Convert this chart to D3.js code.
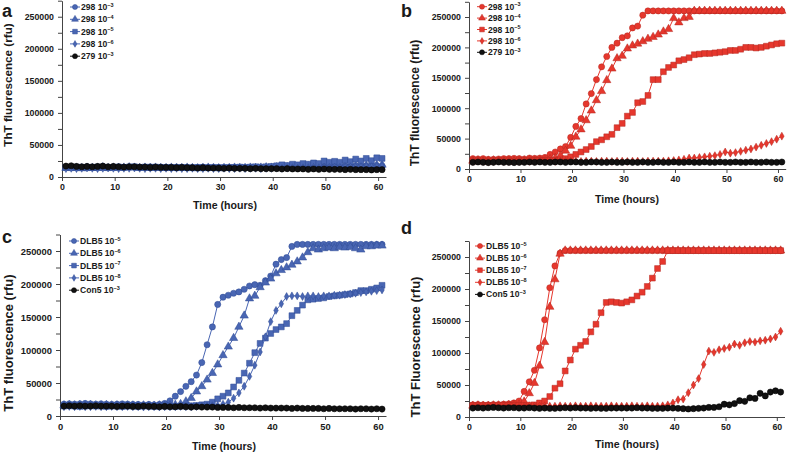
<!DOCTYPE html>
<html><head><meta charset="utf-8">
<script src="https://cdn.jsdelivr.net/npm/d3@7"></script>
<style>
body{margin:0;background:#fff}
svg{display:block}
text{font-family:"Liberation Sans",Arial,sans-serif;font-weight:bold;fill:#1a1a1a}
</style>
</head><body>
<svg id="chart" width="800" height="452"></svg>
<script>
// ---------- DATA ----------
const HOURS = [0.75,1.75,2.75,3.75,4.75,5.75,6.75,7.75,8.75,9.75,
 10.75,11.75,12.75,13.75,14.75,15.75,16.75,17.75,18.75,19.75,
 20.75,21.75,22.75,23.75,24.75,25.75,26.75,27.75,28.75,29.75,
 30.75,31.75,32.75,33.75,34.75,35.75,36.75,37.75,38.75,39.75,
 40.75,41.75,42.75,43.75,44.75,45.75,46.75,47.75,48.75,49.75,
 50.75,51.75,52.75,53.75,54.75,55.75,56.75,57.75,58.75,59.75,60.75];
const X_TICKS = [0,10,20,30,40,50,60];
const Y_TICKS = [0,50000,100000,150000,200000,250000];
const Y_MINOR = [25000,75000,125000,175000,225000,275000];
const X_MAX = 61.5, Y_MAX = 275000;

// panel a : 298 dilutions (blue)
const A_298_3 = [15500,16000,15000,15500,16000,15000,15500,16500,15000,15500,
 16000,15000,16000,15500,15000,15500,16000,15000,15500,15000,
 15000,15500,15000,15000,14500,15000,15500,15000,14500,15000,
 15000,14500,15000,15000,14500,15000,15000,14500,15000,15500,
 15000,15500,15000,16000,15500,16000,15500,16000,16500,16000,
 16500,16000,17000,16500,16500,17000,16500,17000,17000,17500,17000];
const A_298_4 = [14000,14500,14000,13500,14500,14000,14000,15000,14000,14500,
 14000,14500,15000,14500,14000,14500,14000,14500,14000,14000,
 14500,14000,14000,14500,14000,13500,14000,14500,14000,13500,
 14000,14000,14500,14000,14000,14500,14000,14500,15000,14500,
 15000,15500,15000,16000,15500,16000,16500,16000,17000,16500,
 17000,17500,17000,18000,17500,18000,18500,18000,19000,18500,19000];
const A_298_5 = [15000,14500,15500,15000,14500,15000,15500,15000,14500,15000,
 15500,15000,15500,16000,15000,15500,15000,15500,15000,14500,
 15000,14500,15000,14500,14500,15000,14500,14500,15000,14500,
 14500,15000,15000,15500,15000,15500,16000,15500,16000,16500,
 17500,19000,18000,20000,19000,21000,20000,22000,21000,25000,
 23000,24500,23000,26500,24000,28000,25000,29000,25500,30000,29000];
const A_298_6 = [13000,13500,13000,13500,14000,13500,13000,13500,14000,13500,
 13000,13500,13500,14000,13500,13000,13500,13500,13000,13500,
 13000,13500,13000,13000,13500,13000,13000,13500,13000,13000,
 13500,13000,13000,13500,13000,13500,13500,13000,13500,13500,
 14000,13500,14000,14500,14000,14500,14500,15000,14500,15000,
 15000,15500,15000,15500,16000,15500,16000,16500,16000,16500,17000];
const A_279_3 = [17000,17500,16500,16000,16500,16000,16500,17000,16000,16500,
 16000,15500,16000,16000,15500,15500,15000,15500,15000,15000,
 15000,14500,15000,14500,14500,14000,14500,14000,14000,14000,
 13500,14000,13500,13500,13500,13000,13500,13000,13000,13000,
 13000,12500,13000,12500,12500,12500,12000,12500,12000,12500,
 12000,12000,12000,11500,12000,11500,11500,11500,11000,11500,11500];

// panel b : 298 dilutions (red)
const B_298_3 = [17000,16500,17000,16000,16000,16500,17000,17000,17500,17000,
 16500,18000,17500,18000,19000,24000,28000,33000,37000,52000,
 70000,83000,107000,124000,147000,168000,185000,200000,207000,216000,
 219000,232000,235000,253000,260000,260000,260000,260000,260000,260000,
 260000,260000,260000,260000,260000,260000,260000,260000,260000,260000,
 260000,260000,260000,260000,260000,260000,260000,260000,260000,260000,260000];
const B_298_4 = [13500,14000,13000,13500,14000,13500,13000,14000,13500,14000,
 14000,14500,14000,14500,15000,16000,18000,22000,30000,38000,
 53000,65000,80000,96000,113000,128000,146000,165000,182000,186000,
 198000,203000,206000,210000,214000,217000,221000,226000,230000,248000,
 241000,248000,250000,260000,260000,260000,260000,260000,260000,260000,
 260000,260000,260000,260000,260000,260000,260000,260000,260000,260000,260000];
const B_298_5 = [13000,13500,13000,12500,13000,13500,13000,13000,12500,13000,
 13500,13000,13500,14000,13500,14000,14000,15000,17000,20000,
 24000,28000,32000,37000,45000,48000,53000,57000,68000,75000,
 87000,93000,109000,111000,121000,147000,147000,160000,167000,171000,
 178000,180000,183000,188000,189000,190000,190000,191000,192000,193000,
 195000,195000,197000,200000,200000,199000,200000,202000,204000,206000,207000];
const B_298_6 = [12500,13000,12500,12000,12500,13000,12500,12500,13000,12500,
 13000,12500,13000,13500,13000,13000,12500,13000,13500,13000,
 13000,12500,13000,13000,12500,13000,13000,12500,13000,13000,
 12500,13000,13000,12500,13000,13000,13000,13000,13500,14000,
 15000,16000,18000,18000,19000,20000,21000,22000,24000,28000,
 26000,27000,29000,31000,33000,36000,39000,42000,45000,49000,54000];
const B_279_3 = [11000,11500,11000,10500,11000,11500,11000,11000,10500,11000,
 11000,11500,11000,11500,11000,11000,11500,11500,11000,11500,
 11500,11000,11000,11500,11500,11000,11000,11500,11000,11000,
 11500,11000,11000,11500,11000,11000,11500,11000,11000,11500,
 11000,11000,11500,11000,11000,11500,11000,11000,11500,11000,
 11000,11500,11000,11000,11500,11000,11000,11500,11000,11000,11500];

// panel c : DLB5 dilutions (blue)
const C_DLB5_5 = [18000,18500,18000,18500,19000,18500,18000,18500,18000,17500,
 18000,18500,18000,17500,17500,17000,17500,17000,17500,19000,
 23000,30000,37000,45000,52000,62000,81000,108000,135000,169000,
 180000,183000,186000,188000,192000,197000,199000,198000,205000,212000,
 230000,237000,240000,257000,260000,260000,260000,260000,260000,260000,
 260000,260000,260000,260000,260000,260000,260000,260000,260000,260000,260000];
const C_DLB5_6 = [16000,16500,16000,16500,16000,16500,16000,16000,16500,16000,
 16000,15500,16000,16000,15500,16000,15500,15500,16000,15500,
 16000,17000,18000,22000,27000,37000,45000,55000,65000,78000,
 92000,105000,118000,135000,152000,178000,182000,195000,202000,208000,
 216000,221000,225000,229000,234000,240000,248000,254000,252000,254000,
 255000,254000,256000,255000,256000,254000,252000,257000,257000,258000,258000];
const C_DLB5_7 = [15000,15500,15000,14500,15000,15500,15000,15000,14500,15000,
 15000,14500,15000,15000,14500,15000,15000,14500,15000,15000,
 15000,14500,15000,15000,15500,16000,17000,18000,21000,26000,
 30000,35000,44000,54000,65000,80000,96000,110000,118000,125000,
 131000,135000,140000,152000,160000,168000,176000,177000,178000,179000,
 181000,182000,183000,184000,185000,187000,190000,190000,192000,194000,198000];
const C_DLB5_8 = [14000,14500,14000,14500,14000,14000,14500,14000,14000,14500,
 14000,14000,14500,14000,14000,13500,14000,14000,13500,14000,
 14000,14000,14500,14000,14000,14500,15000,15000,15500,16000,
 18000,21000,27000,35000,45000,60000,77000,97000,120000,143000,
 160000,170000,181000,182000,182000,181000,182000,182000,181000,182000,
 182000,183000,183000,184000,185000,186000,187000,188000,189000,190000,191000];
const C_CON5_3 = [15000,15500,15000,15500,15000,15000,15500,15000,15000,15000,
 14500,15000,15000,14500,14500,15000,14500,14500,14000,14500,
 14000,14000,14500,14000,13500,14000,13500,13500,13500,13000,
 13000,13000,12500,13000,12500,12500,12500,12000,12500,12000,
 12000,12000,12000,11500,12000,11500,11500,11500,11500,11000,
 11500,11000,11000,11000,11000,10500,11000,11000,10500,11000,10500];

// panel d : DLB5 dilutions (red)
const D_DLB5_5 = [19000,19500,19000,19000,19500,19500,20000,20500,22000,25000,
 40000,55000,73000,108000,152000,202000,236000,256000,260000,260000,
 260000,260000,260000,260000,260000,260000,260000,260000,260000,260000,
 260000,260000,260000,260000,260000,260000,260000,260000,260000,260000,
 260000,260000,260000,260000,260000,260000,260000,260000,260000,260000,
 260000,260000,260000,260000,260000,260000,260000,260000,260000,260000,260000];
const D_DLB5_6 = [17500,18000,17500,17500,18000,18000,18000,18500,19000,19000,
 24000,37000,53000,80000,117000,172000,215000,255000,260000,260000,
 260000,260000,260000,260000,260000,260000,260000,260000,260000,260000,
 260000,260000,260000,260000,260000,260000,260000,260000,260000,260000,
 260000,260000,260000,260000,260000,260000,260000,260000,260000,260000,
 260000,260000,260000,260000,260000,260000,260000,260000,260000,260000,260000];
const D_DLB5_7 = [18000,17500,17500,18000,17500,18000,18000,18000,17500,18000,
 18000,18500,19000,22000,25000,32000,45000,52000,72000,89000,
 106000,112000,118000,133000,145000,163000,179000,180000,179000,178000,
 180000,183000,189000,195000,204000,217000,232000,243000,260000,260000,
 260000,260000,260000,260000,260000,260000,260000,260000,260000,260000,
 260000,260000,260000,260000,260000,260000,260000,260000,260000,260000,260000];
const D_DLB5_8 = [17000,17500,17000,17000,17500,17000,17000,17500,17500,17000,
 17000,17500,17000,17000,17500,17000,17000,17500,17000,17000,
 17500,17000,17000,17500,17000,17000,17000,17500,17000,17000,
 17000,17500,17000,17000,17500,17000,17000,17500,19000,22000,
 27000,28000,38000,50000,60000,82000,103000,101000,105000,107000,
 109000,114000,112000,116000,118000,117000,119000,120000,122000,125000,134000];
const D_CON5_3 = [14000,14500,14000,14500,15000,14500,14000,14500,14500,14000,
 14000,14500,14000,13500,14000,13500,13500,14000,14500,14000,
 14500,14000,14000,13500,14000,13500,13500,14000,14000,14000,
 14000,14000,14500,14000,14000,13500,13500,13500,14000,14000,
 13500,13000,12500,13000,13500,14000,15000,15000,16000,20000,
 19000,21000,25500,24500,30000,29000,37000,33000,39000,41000,39000];

// legend labels: [base text, exponent]
const LEGEND_298 = [["298 10","\u22123"],["298 10","\u22124"],["298 10","\u22125"],["298 10","\u22126"],["279 10","\u22123"]];
const LEGEND_DLB5 = [["DLB5 10","\u22125"],["DLB5 10","\u22126"],["DLB5 10","\u22127"],["DLB5 10","\u22128"],["Con5 10","\u22123"]];
const X_TITLE = "Time (hours)";

// ---------- STYLE / LAYOUT ----------
const RED = {fill:"#E6372D", stroke:"#B42820"};
const BLUE = {fill:"#4966B3", stroke:"#2F4A95"};
const BLACK = {fill:"#111111", stroke:"#000000"};
const SHAPES = [d3.symbolCircle, d3.symbolTriangle, d3.symbolSquare, d3.symbolDiamond, d3.symbolCircle];
const SIZES = [30, 30, 34, 18, 30];
const LEG_SIZES = [20, 20, 22, 13, 20];

const panels = [
 {letter:"a", lx:2, ly:16.5, left:62, right:386, bottom:177, top:0.7, color:BLUE,
  series:[A_298_3,A_298_4,A_298_5,A_298_6,A_279_3], legend:LEGEND_298,
  legX:75, legY:7, legStep:12.3, yTitle:"ThT fluorescence (rfu)", ytx:8, yty:85, ytSize:11.7, xtx:225, xty:205, tickSize:8.8},
 {letter:"b", lx:401, ly:17, left:469, right:785.7, bottom:169, top:1.8, color:RED,
  series:[B_298_3,B_298_4,B_298_5,B_298_6,B_279_3], legend:LEGEND_298,
  legX:482, legY:6.7, legStep:11.4, yTitle:"ThT fluorescence (rfu)", ytx:415, yty:103, ytSize:12, xtx:627, xty:199, tickSize:8.8},
 {letter:"c", lx:2, ly:243, left:60, right:386, bottom:416, top:234.5, color:BLUE,
  series:[C_DLB5_5,C_DLB5_6,C_DLB5_7,C_DLB5_8,C_CON5_3], legend:LEGEND_DLB5,
  legX:74, legY:241, legStep:12.3, yTitle:"ThT fluorescence (rfu)", ytx:8, yty:343, ytSize:13, xtx:224, xty:446, tickSize:9.4},
 {letter:"d", lx:401, ly:234, left:469, right:784.5, bottom:417, top:241, color:RED,
  series:[D_DLB5_5,D_DLB5_6,D_DLB5_7,D_DLB5_8,D_CON5_3], legend:LEGEND_DLB5,
  legX:480, legY:246, legStep:12.1, yTitle:"ThT Fluorescence (rfu)", ytx:415, yty:347, ytSize:13, xtx:627, xty:444, tickSize:8.8}
];

const svg = d3.select("#chart");

panels.forEach(p => {
  const g = svg.append("g");
  const x = d3.scaleLinear().domain([0, X_MAX]).range([p.left, p.right]);
  const y = d3.scaleLinear().domain([0, Y_MAX]).range([p.bottom, p.top]);

  // axes
  const xa = g.append("g").attr("transform", `translate(0,${p.bottom})`)
    .call(d3.axisBottom(x).tickValues(X_TICKS).tickSize(4).tickSizeOuter(0).tickPadding(3));
  const ya = g.append("g").attr("transform", `translate(${p.left},0)`)
    .call(d3.axisLeft(y).tickValues(Y_TICKS).tickSize(4).tickSizeOuter(0).tickPadding(4).tickFormat(d3.format("d")));
  g.append("g").attr("transform", `translate(${p.left},0)`)
    .call(d3.axisLeft(y).tickValues(Y_MINOR).tickSize(4).tickSizeOuter(0).tickFormat(""))
    .select(".domain").remove();
  g.selectAll(".domain, .tick line").attr("stroke", "#444").attr("stroke-width", 1);
  [xa, ya].forEach(a => a.attr("font-family", null).attr("font-size", null)
    .selectAll("text").attr("font-size", p.tickSize).attr("fill", "#1a1a1a"));

  // series
  p.series.forEach((vals, k) => {
    const col = k === 4 ? BLACK : p.color;
    const pts = HOURS.map((h, i) => [h, vals[i]]).filter(d => d[1] != null);
    g.append("path")
      .attr("d", d3.line().x(d => x(d[0])).y(d => y(d[1]))(pts))
      .attr("fill", "none").attr("stroke", col.fill).attr("stroke-width", 1);
    g.append("g").selectAll("path").data(pts).join("path")
      .attr("transform", d => `translate(${x(d[0])},${y(d[1])})`)
      .attr("d", d3.symbol(SHAPES[k], SIZES[k]))
      .attr("fill", col.fill).attr("stroke", col.stroke).attr("stroke-width", 0.5);
  });

  // legend
  p.legend.forEach((lab, k) => {
    const col = k === 4 ? BLACK : p.color;
    const cy = p.legY + k * p.legStep;
    g.append("line").attr("x1", p.legX - 5).attr("x2", p.legX + 5).attr("y1", cy).attr("y2", cy)
      .attr("stroke", col.fill).attr("stroke-width", 1);
    g.append("path").attr("transform", `translate(${p.legX},${cy})`)
      .attr("d", d3.symbol(SHAPES[k], LEG_SIZES[k])).attr("fill", col.fill).attr("stroke", col.stroke).attr("stroke-width", 0.5);
    const t = g.append("text").attr("x", p.legX + 6).attr("y", cy).attr("dy", "0.35em").attr("font-size", 8.6);
    t.append("tspan").text(lab[0]);
    t.append("tspan").attr("font-size", 5.5).attr("dy", "-0.6em").text(lab[1]);
  });

  // titles
  g.append("text").attr("x", p.xtx).attr("y", p.xty).attr("dy", "0.35em").attr("text-anchor", "middle")
    .attr("font-size", 10.6).text(X_TITLE);
  g.append("text").attr("transform", `translate(${p.ytx},${p.yty}) rotate(-90)`).attr("dy", "0.35em")
    .attr("text-anchor", "middle").attr("font-size", p.ytSize).text(p.yTitle);
  g.append("text").attr("x", p.lx).attr("y", p.ly).attr("font-size", 18).text(p.letter);
});
</script>
</body></html>
